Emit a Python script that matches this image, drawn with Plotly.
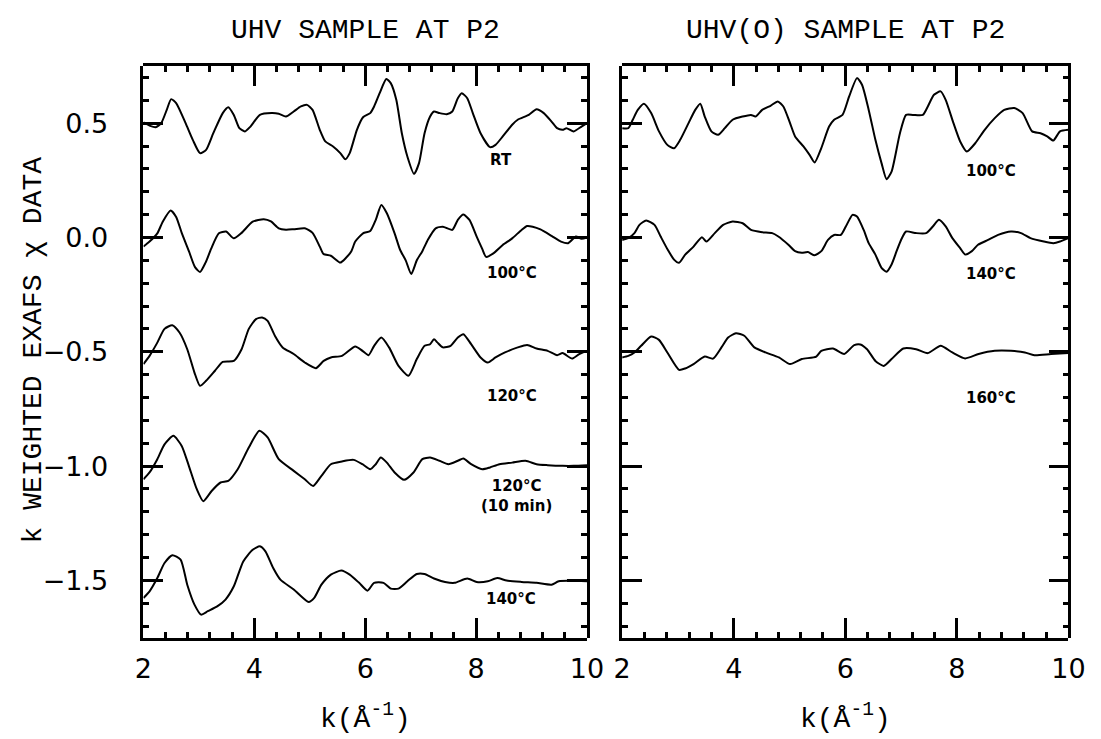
import plotly.graph_objects as go

# ---------------- data ----------------
# Left panel: UHV sample at P2 (curves already offset by 0.5 each)
k_rt = [2.00, 2.12, 2.22, 2.32, 2.42, 2.50, 2.59, 2.76, 2.89, 3.02, 3.13, 3.26, 3.43, 3.53, 3.63,
        3.73, 3.83, 3.93, 4.10, 4.31, 4.44, 4.57, 4.71, 4.84, 4.95, 5.05, 5.18, 5.28, 5.42, 5.55,
        5.64, 5.72, 5.85, 5.96, 6.09, 6.16, 6.26, 6.38, 6.46, 6.56, 6.66, 6.76, 6.88, 6.97, 7.07,
        7.17, 7.24, 7.34, 7.47, 7.57, 7.67, 7.74, 7.84, 7.94, 8.08, 8.25, 8.35, 8.48, 8.65, 8.75,
        8.95, 9.09, 9.22, 9.36, 9.46, 9.56, 9.63, 9.76, 9.90, 10.0]
chi_rt = [0.503, 0.488, 0.482, 0.500, 0.558, 0.605, 0.588, 0.500, 0.427, 0.369, 0.383, 0.456, 0.544,
          0.570, 0.536, 0.478, 0.464, 0.485, 0.536, 0.544, 0.541, 0.529, 0.551, 0.573, 0.580, 0.558,
          0.471, 0.420, 0.398, 0.369, 0.342, 0.369, 0.471, 0.526, 0.544, 0.573, 0.631, 0.693, 0.675,
          0.602, 0.456, 0.354, 0.278, 0.325, 0.456, 0.529, 0.551, 0.544, 0.539, 0.551, 0.609, 0.631,
          0.609, 0.544, 0.456, 0.395, 0.405, 0.442, 0.493, 0.515, 0.536, 0.561, 0.544, 0.507, 0.478,
          0.471, 0.478, 0.464, 0.485, 0.500]

k_100 = [2.00, 2.11, 2.25, 2.35, 2.49, 2.59, 2.69, 2.82, 2.93, 3.02, 3.12, 3.22, 3.36, 3.49, 3.63,
         3.77, 3.97, 4.17, 4.30, 4.44, 4.57, 4.71, 4.91, 5.05, 5.18, 5.25, 5.38, 5.55, 5.65, 5.75,
         5.82, 5.96, 6.09, 6.19, 6.29, 6.39, 6.53, 6.63, 6.73, 6.83, 6.93, 7.03, 7.13, 7.27, 7.40,
         7.57, 7.67, 7.77, 7.88, 8.01, 8.11, 8.18, 8.31, 8.48, 8.65, 8.82, 8.92, 9.02, 9.16, 9.36,
         9.53, 9.66, 9.80, 9.90, 10.0]
chi_100 = [-0.040, -0.018, 0.018, 0.070, 0.118, 0.090, 0.020, -0.060, -0.130, -0.151, -0.110, -0.050,
           0.018, 0.026, -0.004, 0.020, 0.069, 0.080, 0.070, 0.040, 0.034, 0.036, 0.040, 0.020,
           -0.040, -0.073, -0.080, -0.110, -0.090, -0.060, -0.018, 0.018, 0.028, 0.077, 0.142,
           0.106, 0.018, -0.055, -0.100, -0.160, -0.100, -0.060, -0.010, 0.040, 0.047, 0.033,
           0.077, 0.100, 0.077, 0.004, -0.050, -0.085, -0.070, -0.033, -0.004, 0.033, 0.050, 0.047,
           0.035, 0.007, -0.018, -0.025, 0.004, -0.006, 0.000]

k_120 = [2.00, 2.11, 2.25, 2.38, 2.52, 2.65, 2.79, 2.92, 3.02, 3.13, 3.29, 3.43, 3.63, 3.77, 3.90,
         4.03, 4.14, 4.24, 4.37, 4.51, 4.71, 4.91, 5.11, 5.25, 5.38, 5.58, 5.82, 5.95, 6.06, 6.16,
         6.29, 6.43, 6.60, 6.78, 6.93, 7.07, 7.17, 7.24, 7.30, 7.40, 7.54, 7.67, 7.77, 7.91, 8.08,
         8.21, 8.35, 8.52, 8.75, 8.92, 9.09, 9.29, 9.46, 9.56, 9.73, 9.86, 10.0]
chi_120 = [-0.554, -0.518, -0.460, -0.400, -0.384, -0.416, -0.489, -0.591, -0.649, -0.627, -0.583,
           -0.544, -0.540, -0.489, -0.400, -0.357, -0.350, -0.365, -0.430, -0.481, -0.510, -0.547,
           -0.572, -0.540, -0.525, -0.518, -0.477, -0.496, -0.515, -0.474, -0.438, -0.481, -0.562,
           -0.605, -0.532, -0.474, -0.467, -0.445, -0.459, -0.481, -0.474, -0.438, -0.423, -0.467,
           -0.525, -0.547, -0.525, -0.503, -0.481, -0.470, -0.486, -0.496, -0.515, -0.506, -0.530,
           -0.510, -0.496]

k_120_10 = [2.00, 2.11, 2.25, 2.38, 2.54, 2.69, 2.82, 2.96, 3.08, 3.23, 3.39, 3.53, 3.70, 3.90, 4.09,
            4.24, 4.44, 4.71, 4.91, 5.06, 5.21, 5.38, 5.58, 5.79, 5.95, 6.09, 6.19, 6.28, 6.39, 6.53,
            6.70, 6.87, 7.03, 7.17, 7.34, 7.50, 7.67, 7.77, 7.91, 8.11, 8.25, 8.42, 8.65, 8.89, 9.09,
            9.29, 9.56, 9.76, 10.0]
chi_120_10 = [-1.058, -1.028, -0.970, -0.905, -0.868, -0.912, -1.000, -1.100, -1.154, -1.109, -1.072,
              -1.065, -1.014, -0.919, -0.846, -0.875, -0.970, -1.021, -1.058, -1.087, -1.043, -0.992,
              -0.980, -0.973, -0.992, -1.014, -0.992, -0.963, -0.985, -1.028, -1.060, -1.028, -0.970,
              -0.963, -0.977, -0.992, -0.977, -0.967, -0.992, -1.014, -1.006, -0.992, -0.985, -0.977,
              -0.992, -0.996, -0.999, -0.999, -0.996]

k_140 = [2.00, 2.11, 2.25, 2.38, 2.52, 2.67, 2.79, 2.92, 3.04, 3.16, 3.33, 3.48, 3.63, 3.80, 3.97,
         4.10, 4.20, 4.34, 4.47, 4.71, 4.98, 5.08, 5.21, 5.38, 5.57, 5.72, 5.89, 6.04, 6.16, 6.33,
         6.46, 6.60, 6.76, 6.93, 7.07, 7.24, 7.44, 7.61, 7.84, 8.01, 8.21, 8.38, 8.55, 8.82, 9.09,
         9.36, 9.49, 10.0]
chi_140 = [-1.577, -1.548, -1.490, -1.424, -1.390, -1.409, -1.519, -1.606, -1.650, -1.635, -1.614,
           -1.584, -1.526, -1.417, -1.366, -1.351, -1.373, -1.446, -1.497, -1.540, -1.595, -1.577,
           -1.519, -1.475, -1.457, -1.475, -1.511, -1.545, -1.511, -1.511, -1.536, -1.536, -1.504,
           -1.472, -1.472, -1.492, -1.507, -1.511, -1.492, -1.507, -1.504, -1.490, -1.501, -1.507,
           -1.511, -1.519, -1.504, -1.504]

# Right panel: UHV(O) sample at P2
k_o100 = [2.00, 2.11, 2.19, 2.28, 2.39, 2.52, 2.66, 2.81, 2.93, 3.04, 3.19, 3.31, 3.40, 3.48, 3.60,
          3.72, 3.84, 3.98, 4.16, 4.31, 4.39, 4.51, 4.66, 4.79, 4.89, 5.01, 5.10, 5.25, 5.36, 5.45,
          5.57, 5.71, 5.80, 5.95, 6.07, 6.21, 6.30, 6.42, 6.54, 6.65, 6.74, 6.83, 6.98, 7.09, 7.21,
          7.39, 7.48, 7.59, 7.71, 7.80, 7.94, 8.06, 8.18, 8.33, 8.50, 8.68, 8.85, 9.03, 9.18, 9.35,
          9.50, 9.62, 9.73, 9.85, 10.0]
chi_o100 = [0.478, 0.478, 0.515, 0.558, 0.585, 0.544, 0.464, 0.405, 0.390, 0.427, 0.500, 0.558, 0.585,
            0.529, 0.464, 0.449, 0.478, 0.515, 0.529, 0.536, 0.529, 0.558, 0.576, 0.595, 0.573, 0.500,
            0.442, 0.398, 0.361, 0.328, 0.391, 0.485, 0.515, 0.536, 0.617, 0.697, 0.668, 0.558, 0.427,
            0.325, 0.255, 0.288, 0.456, 0.536, 0.536, 0.536, 0.573, 0.624, 0.639, 0.602, 0.500, 0.420,
            0.376, 0.412, 0.471, 0.522, 0.558, 0.566, 0.544, 0.464, 0.456, 0.442, 0.424, 0.464, 0.471]

k_o140 = [2.00, 2.11, 2.22, 2.31, 2.43, 2.58, 2.69, 2.82, 2.93, 3.02, 3.13, 3.28, 3.43, 3.51, 3.66,
          3.81, 3.98, 4.16, 4.31, 4.51, 4.69, 4.80, 4.98, 5.10, 5.22, 5.33, 5.45, 5.57, 5.69, 5.80,
          5.92, 6.01, 6.13, 6.21, 6.33, 6.42, 6.54, 6.65, 6.74, 6.83, 6.92, 7.00, 7.09, 7.27, 7.45,
          7.57, 7.68, 7.80, 7.92, 8.06, 8.15, 8.27, 8.38, 8.56, 8.74, 8.97, 9.15, 9.32, 9.56, 9.73,
          9.85, 10.0]
chi_o140 = [-0.011, -0.003, 0.019, 0.055, 0.074, 0.055, 0.004, -0.055, -0.097, -0.111, -0.075, -0.040,
            0.001, -0.018, 0.019, 0.055, 0.070, 0.062, 0.033, 0.023, 0.019, 0.004, -0.032, -0.060,
            -0.067, -0.064, -0.078, -0.060, -0.011, 0.011, 0.011, 0.048, 0.099, 0.092, 0.033, -0.025,
            -0.075, -0.133, -0.150, -0.118, -0.060, -0.011, 0.026, 0.019, 0.019, 0.048, 0.077, 0.048,
            -0.003, -0.047, -0.075, -0.060, -0.032, -0.011, 0.011, 0.026, 0.019, -0.003, -0.018,
            -0.025, -0.018, -0.003]

k_o160 = [2.00, 2.11, 2.22, 2.34, 2.52, 2.66, 2.81, 3.02, 3.13, 3.28, 3.48, 3.63, 3.78, 3.90, 4.04,
          4.19, 4.37, 4.57, 4.81, 5.01, 5.22, 5.48, 5.57, 5.78, 5.98, 6.16, 6.27, 6.39, 6.54, 6.69,
          6.83, 7.04, 7.27, 7.48, 7.71, 7.92, 8.15, 8.39, 8.68, 8.97, 9.22, 9.39, 9.69, 10.0]
chi_o160 = [-0.525, -0.518, -0.503, -0.474, -0.433, -0.448, -0.503, -0.579, -0.573, -0.554, -0.521,
            -0.530, -0.481, -0.438, -0.419, -0.430, -0.481, -0.503, -0.525, -0.554, -0.532, -0.521,
            -0.496, -0.486, -0.510, -0.471, -0.468, -0.489, -0.540, -0.562, -0.532, -0.486, -0.489,
            -0.506, -0.474, -0.503, -0.529, -0.510, -0.496, -0.496, -0.503, -0.515, -0.510, -0.506]

left_series = [(k_rt, chi_rt), (k_100, chi_100), (k_120, chi_120), (k_120_10, chi_120_10), (k_140, chi_140)]
right_series = [(k_o100, chi_o100), (k_o140, chi_o140), (k_o160, chi_o160)]

left_labels = ["RT", "100°C", "120°C", "120°C<br>(10 min)", "140°C"]
left_label_k = [8.45, 8.65, 8.65, 8.72, 8.62]
left_label_y = [0.34, -0.155, -0.695, -1.13, -1.583]
right_labels = ["100°C", "140°C", "160°C"]
right_label_k = [8.62, 8.62, 8.62]
right_label_y = [0.29, -0.161, -0.702]

panel_titles = ["UHV SAMPLE AT P2", "UHV(O) SAMPLE AT P2"]
y_tickvals = [0.5, 0.0, -0.5, -1.0, -1.5]
y_ticktext = ["0.5", "0.0", "\u22120.5", "\u22121.0", "\u22121.5"]
x_tickvals = [2, 4, 6, 8, 10]

# ---------------- figure ----------------
fig = go.Figure()
line_style = dict(color="black", width=2, shape="spline", smoothing=0.6)
for kx, cy in left_series:
    fig.add_trace(go.Scatter(x=kx, y=cy, mode="lines", line=line_style,
                             xaxis="x", yaxis="y", showlegend=False, hoverinfo="skip"))
for kx, cy in right_series:
    fig.add_trace(go.Scatter(x=kx, y=cy, mode="lines", line=line_style,
                             xaxis="x2", yaxis="y2", showlegend=False, hoverinfo="skip"))

# empty traces on twin subplots (same domains) that carry the top / right tick frames
for xa, ya in [("x3", "y3"), ("x4", "y4")]:
    fig.add_trace(go.Scatter(x=[], y=[], mode="lines", xaxis=xa, yaxis=ya,
                             showlegend=False, hoverinfo="skip"))

W, H = 1101, 739
left_dom = [137.7 / W, 592.0 / W]
right_dom = [628.0 / W, 1085.0 / W]
y_dom = [1 - 637.5 / H, 1 - 66.0 / H]

tick_font = dict(family="DejaVu Sans", size=27, color="black")
mono = "Liberation Mono, Courier New, monospace"

x_minor = dict(tickmode="linear", tick0=2, dtick=0.4, ticks="inside",
               ticklen=6, tickwidth=2.5, tickcolor="black", showgrid=False)
y_minor = dict(tickmode="linear", tick0=0, dtick=0.1, ticks="inside",
               ticklen=6, tickwidth=2.5, tickcolor="black", showgrid=False)


def xaxis_cfg(domain, anchor, side="bottom", labels=True):
    return dict(domain=domain, anchor=anchor, range=[2, 10], tickmode="array",
                tickvals=x_tickvals, ticks="inside", ticklen=20, tickwidth=2.5,
                tickcolor="black", showline=True, linewidth=2.5, linecolor="black",
                showgrid=False, zeroline=False, tickfont=tick_font,
                ticklabelstandoff=5, side=side, minor=x_minor,
                showticklabels=labels)


def yaxis_cfg(anchor, labels, side="left"):
    return dict(domain=y_dom, anchor=anchor, range=[-1.75, 0.75], tickmode="array",
                tickvals=y_tickvals, ticktext=y_ticktext, ticks="inside", ticklen=20,
                tickwidth=2.5, tickcolor="black", showline=True, linewidth=2.5,
                linecolor="black", showgrid=False, zeroline=False,
                showticklabels=labels, tickfont=tick_font, ticklabelstandoff=27,
                side=side, minor=y_minor)


fig.update_layout(
    width=W, height=H,
    margin=dict(l=0, r=0, t=0, b=0),
    paper_bgcolor="white", plot_bgcolor="rgba(0,0,0,0)",
    xaxis=xaxis_cfg(left_dom, "y"),
    yaxis=yaxis_cfg("x", True),
    xaxis2=xaxis_cfg(right_dom, "y2"),
    yaxis2=yaxis_cfg("x2", False),
    xaxis3=xaxis_cfg(left_dom, "y3", side="top", labels=False),
    yaxis3=yaxis_cfg("x3", False, side="right"),
    xaxis4=xaxis_cfg(right_dom, "y4", side="top", labels=False),
    yaxis4=yaxis_cfg("x4", False, side="right"),
)

annots = []
label_font = dict(family="DejaVu Sans", size=15, color="black")
for t, kx, yy in zip(left_labels, left_label_k, left_label_y):
    annots.append(dict(text="<b>" + t + "</b>", x=kx, y=yy, xref="x", yref="y",
                       showarrow=False, font=label_font, xanchor="center", yanchor="middle"))
for t, kx, yy in zip(right_labels, right_label_k, right_label_y):
    annots.append(dict(text="<b>" + t + "</b>", x=kx, y=yy, xref="x2", yref="y2",
                       showarrow=False, font=label_font, xanchor="center", yanchor="middle"))

title_font = dict(family=mono, size=28, color="black")
for t, dom in zip(panel_titles, [left_dom, right_dom]):
    annots.append(dict(text=t, x=(dom[0] + dom[1]) / 2, y=1 - 30 / H, xref="paper",
                       yref="paper", showarrow=False, font=title_font,
                       xanchor="center", yanchor="middle"))
    annots.append(dict(text="k(Å<sup>-1</sup>)", x=(dom[0] + dom[1]) / 2, y=1 - 717 / H,
                       xref="paper", yref="paper", showarrow=False, font=title_font,
                       xanchor="center", yanchor="middle"))

annots.append(dict(text="k WEIGHTED EXAFS χ DATA", x=25 / W, y=1 - 350 / H, xref="paper",
                   yref="paper", showarrow=False, font=title_font, textangle=-90,
                   xanchor="center", yanchor="middle"))

fig.update_layout(annotations=annots)

fig.write_html("out.html")
